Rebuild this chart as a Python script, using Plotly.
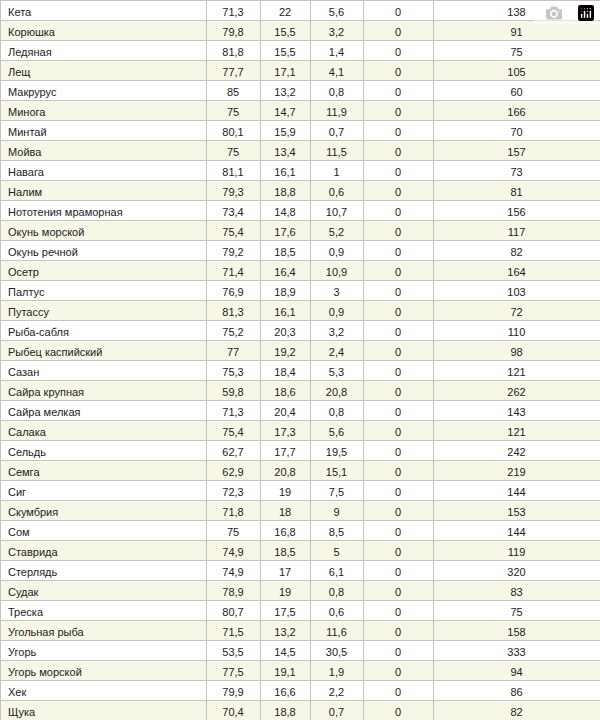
import plotly.graph_objects as go

names = ["Кета", "Корюшка", "Ледяная", "Лещ", "Макрурус", "Минога", "Минтай", "Мойва", "Навага", "Налим",
         "Нототения мраморная", "Окунь морской", "Окунь речной", "Осетр", "Палтус", "Путассу", "Рыба-сабля",
         "Рыбец каспийский", "Сазан", "Сайра крупная", "Сайра мелкая", "Салака", "Сельдь", "Семга", "Сиг",
         "Скумбрия", "Сом", "Ставрида", "Стерлядь", "Судак", "Треска", "Угольная рыба", "Угорь",
         "Угорь морской", "Хек", "Щука"]
water = ["71,3", "79,8", "81,8", "77,7", "85", "75", "80,1", "75", "81,1", "79,3", "73,4", "75,4", "79,2", "71,4",
         "76,9", "81,3", "75,2", "77", "75,3", "59,8", "71,3", "75,4", "62,7", "62,9", "72,3", "71,8", "75", "74,9",
         "74,9", "78,9", "80,7", "71,5", "53,5", "77,5", "79,9", "70,4"]
protein = ["22", "15,5", "15,5", "17,1", "13,2", "14,7", "15,9", "13,4", "16,1", "18,8", "14,8", "17,6", "18,5",
           "16,4", "18,9", "16,1", "20,3", "19,2", "18,4", "18,6", "20,4", "17,3", "17,7", "20,8", "19", "18",
           "16,8", "18,5", "17", "19", "17,5", "13,2", "14,5", "19,1", "16,6", "18,8"]
fat = ["5,6", "3,2", "1,4", "4,1", "0,8", "11,9", "0,7", "11,5", "1", "0,6", "10,7", "5,2", "0,9", "10,9", "3",
       "0,9", "3,2", "2,4", "5,3", "20,8", "0,8", "5,6", "19,5", "15,1", "7,5", "9", "8,5", "5", "6,1", "0,8",
       "0,6", "11,6", "30,5", "1,9", "2,2", "0,7"]
carbs = ["0"] * 36
kcal = ["138", "91", "75", "105", "60", "166", "70", "157", "73", "81", "156", "117", "82", "164", "103", "72",
        "110", "98", "121", "262", "143", "121", "242", "219", "144", "153", "144", "119", "320", "83", "75",
        "158", "333", "94", "86", "82"]

cols = [names, water, protein, fat, carbs, kcal]
# first row goes in the header so the table has no empty header band
fills = ["white" if i % 2 == 0 else "#f6f7e6" for i in range(1, len(names))]
aligns = ["left", "center", "center", "center", "center", "center"]
font = dict(family="Liberation Sans, Arial", size=11, color="#222222")

fig = go.Figure(go.Table(
    columnwidth=[206, 54, 50, 53, 70, 167],
    header=dict(values=[c[0] for c in cols], align=aligns, fill_color="white",
                line_color="#c4c4c4", line_width=1, font=font, height=20),
    cells=dict(
        values=[c[1:] for c in cols],
        align=aligns,
        fill_color=[fills] * 6,
        line_color="#c4c4c4",
        line_width=1,
        font=font,
        height=20,
    ),
))
fig.update_layout(width=600, height=720, margin=dict(l=0, r=0, t=0, b=0), paper_bgcolor="white")
fig.write_html("out.html", post_script="document.body.style.margin='0';")
